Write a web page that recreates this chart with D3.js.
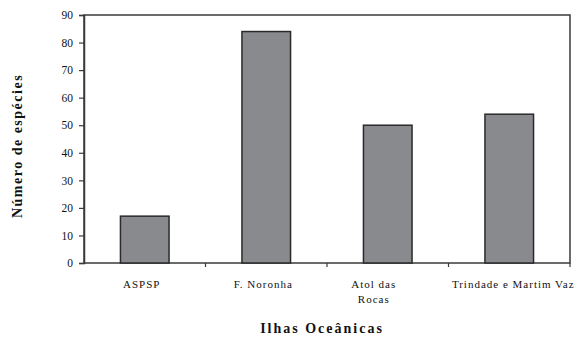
<!DOCTYPE html>
<html>
<head>
<meta charset="utf-8">
<script src="https://cdn.jsdelivr.net/npm/d3@7"></script>
<style>
  body { margin: 0; background: #fff; }
  text { font-family: "Liberation Serif", "Times New Roman", serif; fill: #111; }
</style>
</head>
<body>
<svg id="main_chart" width="576" height="344"></svg>
<script>
// DATA
const islands = ['ASPSP', 'F. Noronha', 'Atol das Rocas', 'Trindade e Martim Vaz'];
const island_lines = [['ASPSP'], ['F. Noronha'], ['Atol das', 'Rocas'], ['Trindade e Martim Vaz']];
const species = [17, 84, 50, 54];
const y_ticks = [0, 10, 20, 30, 40, 50, 60, 70, 80, 90];

(function() {
  const svg = d3.select('#main_chart');
  const plot_left = 84, plot_right = 570, plot_top = 15, plot_bottom = 263;

  // SCALES
  const xScale = d3.scaleBand().domain(islands).range([plot_left, plot_right])
    .paddingInner(0.6).paddingOuter(0.3);
  const yScale = d3.scaleLinear().domain([0, 90]).range([plot_bottom, plot_top]);

  // PLOT FRAME
  svg.append('rect')
    .attr('x', plot_left).attr('y', plot_top)
    .attr('width', plot_right - plot_left).attr('height', plot_bottom - plot_top)
    .attr('fill', 'none').attr('stroke', '#3a3a3a').attr('stroke-width', 1.5);

  // BARS
  svg.selectAll('rect.bar').data(species).enter().append('rect')
    .attr('class', 'bar')
    .attr('x', (d, i) => xScale(islands[i]))
    .attr('y', d => yScale(d))
    .attr('width', xScale.bandwidth())
    .attr('height', d => plot_bottom - yScale(d))
    .attr('fill', '#898a8e')
    .attr('stroke', '#2a2a2a')
    .attr('stroke-width', 1.5);

  // Y AXIS
  const yAxis = svg.append('g')
    .attr('transform', `translate(${plot_left},0)`)
    .call(d3.axisLeft(yScale).tickValues(y_ticks).tickSize(5).tickPadding(6));
  yAxis.select('.domain').attr('stroke', '#3a3a3a').attr('stroke-width', 1.5);
  yAxis.selectAll('.tick line').attr('stroke', '#3a3a3a').attr('stroke-width', 1.2);
  yAxis.selectAll('.tick text')
    .style('font-family', '"Liberation Serif", serif')
    .style('font-size', '11.5px').attr('fill', '#111');

  // X AXIS TICKS (category boundaries)
  const step = xScale.step();
  const boundaries = islands.map(d => xScale(d) - xScale.paddingInner() * step / 2 + step);
  svg.selectAll('line.xtick').data(boundaries).enter().append('line')
    .attr('x1', d => d).attr('x2', d => d)
    .attr('y1', plot_bottom).attr('y2', plot_bottom + 4)
    .attr('stroke', '#3a3a3a').attr('stroke-width', 1.2);

  // CATEGORY LABELS
  const label_shift = [-3, -3, -14, 4];
  island_lines.forEach((lines, i) => {
    const cx = xScale(islands[i]) + xScale.bandwidth() / 2 + label_shift[i];
    const t = svg.append('text')
      .attr('text-anchor', 'middle')
      .attr('font-size', 11)
      .attr('letter-spacing', 1)
      .attr('y', 288);
    lines.forEach((line, j) => {
      t.append('tspan').attr('x', cx).attr('dy', j === 0 ? 0 : 15).text(line);
    });
  });

  // AXIS TITLES
  svg.append('text')
    .attr('text-anchor', 'middle')
    .attr('font-size', 14).attr('font-weight', 'bold')
    .attr('letter-spacing', 2)
    .attr('x', 322).attr('y', 333)
    .text('Ilhas Oceânicas');

  svg.append('text')
    .attr('text-anchor', 'middle')
    .attr('font-size', 14).attr('font-weight', 'bold')
    .attr('letter-spacing', 1.5)
    .attr('transform', 'translate(22,146) rotate(-90)')
    .text('Número de espécies');
})();
</script>
</body>
</html>
